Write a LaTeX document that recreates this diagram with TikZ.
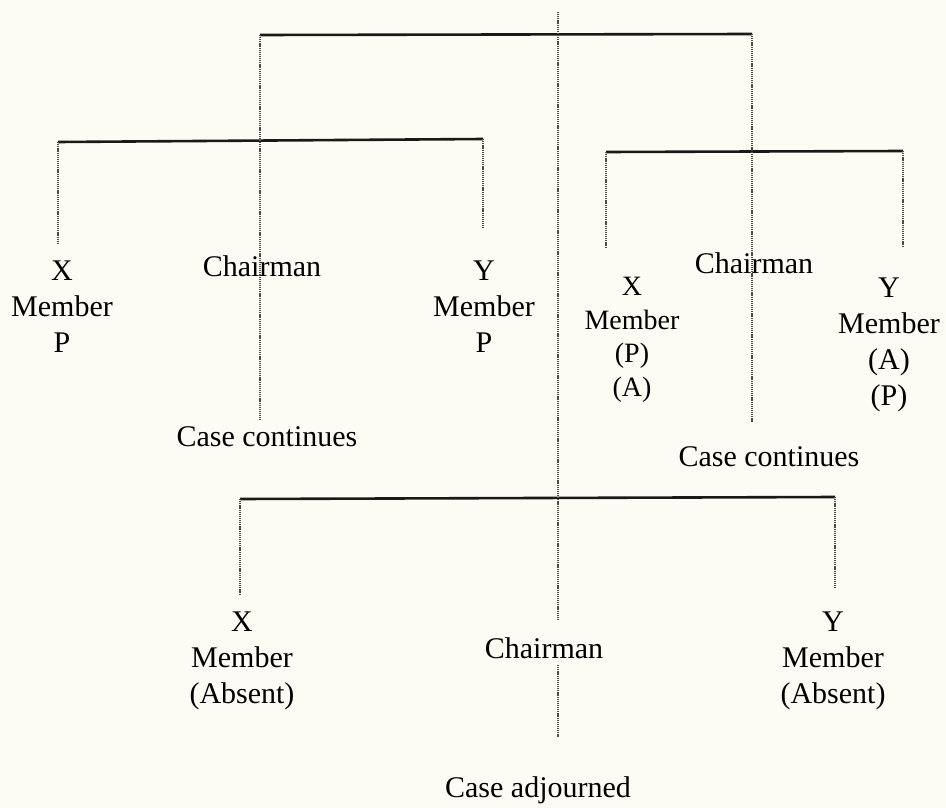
\documentclass[tikz,border=0pt]{standalone}
\usepackage{fontspec}
\setmainfont{Liberation Serif}
\begin{document}
\begin{tikzpicture}[x=1pt,y=-1pt,
  bar/.style={line width=2.6pt,draw=black!90},
  dotline/.style={line width=1.3pt,draw=black!70,dash pattern=on 1.2pt off 0.9pt},
  lab/.style={align=center,inner sep=0pt,text=black,font=\fontsize{30}{36}\selectfont},
  labs/.style={align=center,inner sep=0pt,text=black,font=\fontsize{28}{33.5}\selectfont}]
\useasboundingbox[fill={rgb,255:red,252;green,251;blue,244}] (0,0) rectangle (946,808);
% coordinates
\coordinate (mainT) at (558,12);
\coordinate (mainA) at (558,620);
\coordinate (mainB) at (558,665);
\coordinate (mainC) at (558,737);
\coordinate (topL) at (260,35);
\coordinate (topR) at (752,34);
\coordinate (lChE) at (260,420);
\coordinate (rChE) at (752,422);
\coordinate (l2L) at (58,142);
\coordinate (l2R) at (483,139);
\coordinate (l2LE) at (58,244);
\coordinate (l2RE) at (483,229);
\coordinate (r2L) at (606,152);
\coordinate (r2R) at (903,151);
\coordinate (r2LE) at (606,248);
\coordinate (r2RE) at (903,247);
\coordinate (b3L) at (240,499);
\coordinate (b3R) at (835,497);
\coordinate (b3LE) at (240,595);
\coordinate (b3RE) at (835,588);
% bars
\draw[bar] (topL) -- (topR);
\draw[bar] (l2L) -- (l2R);
\draw[bar] (r2L) -- (r2R);
\draw[bar] (b3L) -- (b3R);
% dotted verticals
\draw[dotline] (mainT) -- (mainA);
\draw[dotline] (mainB) -- (mainC);
\draw[dotline] (topL) -- (lChE);
\draw[dotline] (topR) -- (rChE);
\draw[dotline] (l2L) -- (l2LE);
\draw[dotline] (l2R) -- (l2RE);
\draw[dotline] (r2L) -- (r2LE);
\draw[dotline] (r2R) -- (r2RE);
\draw[dotline] (b3L) -- (b3LE);
\draw[dotline] (b3R) -- (b3RE);
% left group
\node[lab] (lx) at (62,307) {X\\Member\\P};
\node[lab] (lch) at (262,266) {Chairman};
\node[lab] (ly) at (484,307) {Y\\Member\\P};
\node[lab] (lcc) at (267,437) {Case continues};
% right group
\node[labs] (rx) at (632,340) {X\\Member\\(P)\\(A)};
\node[lab] (rch) at (754,263) {Chairman};
\node[lab] (ry) at (889,345) {Y\\Member\\(A)\\(P)};
\node[lab] (rcc) at (769,457) {Case continues};
% bottom group
\node[lab] (bx) at (242,661) {X\\Member\\(Absent)};
\node[lab] (bch) at (544,648) {Chairman};
\node[lab] (by) at (833,661) {Y\\Member\\(Absent)};
\node[lab] (bca) at (538,790) {Case adjourned};
\end{tikzpicture}
\end{document}
